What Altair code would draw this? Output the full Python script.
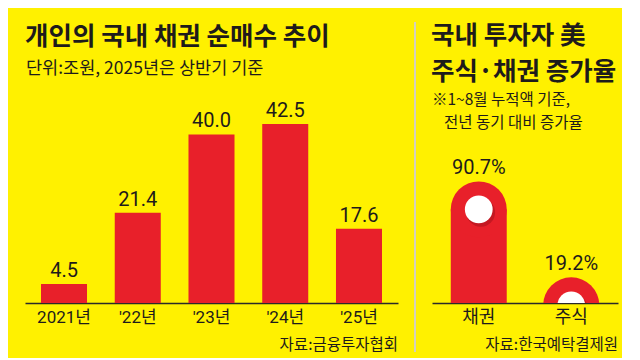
import altair as alt
import pandas as pd

# ---- data ----
years = ["2021년", "'22년", "'23년", "'24년", "'25년"]
net_buy = [4.5, 21.4, 40.0, 42.5, 17.6]

assets = ["채권", "주식"]
growth = [90.7, 19.2]

left_title = "개인의 국내 채권 순매수 추이"
left_sub = "단위:조원, 2025년은 상반기 기준"
left_src = "자료:금융투자협회"
right_title = ["국내 투자자 美", "주식·채권 증가율"]
right_note = ["※1~8월 누적액 기준,", "전년 동기 대비 증가율"]
right_src = "자료:한국예탁결제원"

YELLOW = "#FFF100"
RED = "#E8202A"
INK = "#1E1B1B"
KR = "Noto Sans CJK KR"
NUM = "Roboto"

LW, RW, H = 373, 186, 295


def label(txt, x, y, size, weight="normal", align="left", font=KR, baseline="middle"):
    return alt.Chart(pd.DataFrame({"t": [txt]})).mark_text(
        font=font, fontSize=size, fontWeight=weight, align=align,
        baseline=baseline, color=INK
    ).encode(x=alt.value(x), y=alt.value(y), text="t:N")


# ---- left panel ----
ldf = pd.DataFrame({"year": years, "v": net_buy})
lx = alt.X("year:N", sort=years,
           scale=alt.Scale(paddingInner=0.376, paddingOuter=0.217),
           axis=alt.Axis(title=None, labelAngle=0, ticks=False, domainColor="#2a2a2a",
                         domainWidth=1.5, labelFont=NUM + ", " + KR, labelFontSize=17,
                         labelColor=INK, labelPadding=6, labelBaseline="top"))
ly = alt.Y("v:Q", scale=alt.Scale(domain=[0, 67.8]), axis=None)

lbars = alt.Chart(ldf).mark_bar(color=RED).encode(x=lx, y=ly)
ltext = alt.Chart(ldf).mark_text(font=NUM, fontSize=20, baseline="alphabetic", dy=-7,
                                 color=INK).encode(
    x=alt.X("year:N", sort=years), y="v:Q", text=alt.Text("v:Q", format=".1f"))

divider = alt.Chart(pd.DataFrame({"a": [0]})).mark_rule(color="#D4D0BC", strokeWidth=2).encode(
    x=alt.value(390), y=alt.value(14), y2=alt.value(344))

left = alt.layer(
    lbars, ltext,
    label(left_title, 0, 29, 25.5, weight="bold"),
    label(left_sub, 1, 61, 17.5),
    label(left_src, LW, 337, 15.5, align="right"),
    divider,
).properties(width=LW, height=H)

# ---- right panel ----
R = 28  # cap radius in px (half the bar width)
rdf = pd.DataFrame({"asset": assets, "g": growth, "lab": [f"{g:.1f}%" for g in growth]})
rx = alt.X("asset:N", sort=assets,
           scale=alt.Scale(paddingInner=0.395, paddingOuter=0.203),
           axis=alt.Axis(title=None, labelAngle=0, ticks=False, domainColor="#2a2a2a",
                         domainWidth=1.5, labelFont=KR, labelFontSize=18,
                         labelColor=INK, labelPadding=5, labelBaseline="top"))
ry = alt.Y("g:Q", scale=alt.Scale(domain=[0, 202.7]), axis=None)
xs = alt.X("asset:N", sort=assets)

rbody = alt.Chart(rdf).mark_bar(color=RED, yOffset=R, clip=True).encode(x=rx, y=ry)
rcap = alt.Chart(rdf).mark_point(filled=True, shape="circle", size=(2 * R) ** 2, color=RED,
                                 opacity=1, yOffset=R, clip=True).encode(x=xs, y="g:Q")
shadow = alt.Chart(rdf).mark_point(filled=True, shape="circle", size=820, color="#A0101A",
                                   opacity=0.5, xOffset=2, yOffset=R + 3, clip=True).encode(
    x=xs, y="g:Q")
dots = alt.Chart(rdf).mark_point(filled=True, shape="circle", size=770, color="white",
                                 opacity=1, yOffset=R, clip=True).encode(x=xs, y="g:Q")
rtext = alt.Chart(rdf).mark_text(font=NUM, fontSize=20, baseline="alphabetic", dy=-7,
                                 color=INK).encode(x=xs, y="g:Q", text="lab:N")

right = alt.layer(
    rbody, rcap, shadow, dots, rtext,
    label(right_title[0], -1, 28, 25.5, weight="bold"),
    label(right_title[1], -1, 64, 25.5, weight="bold"),
    label(right_note[0], 0, 92, 15.5),
    label(right_note[1], 12, 115, 15.5),
    label(right_src, RW, 337, 15.5, align="right"),
).properties(width=RW, height=H)

chart = alt.hconcat(left, right, spacing=34, bounds="flush").configure(
    background=YELLOW,
    padding={"left": 17, "top": 0, "right": 4, "bottom": 4},
).configure_view(stroke=None)

chart.save("out.html", embed_options={"renderer": "svg", "actions": False})
